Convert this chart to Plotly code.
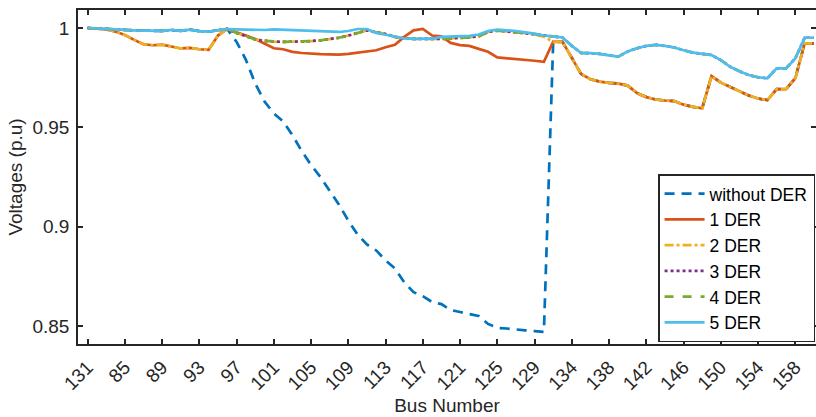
import plotly.graph_objects as go

bus_numbers = [131, 82, 83, 84, 85, 86, 87, 88, 89, 90, 91, 92, 93, 94, 95, 96, 97, 98, 99, 100,
               101, 102, 103, 104, 105, 106, 107, 108, 109, 110, 111, 112, 113, 114, 115, 116, 117, 118, 119, 120,
               121, 122, 123, 124, 125, 126, 127, 128, 129, 130, 132, 133, 134, 135, 136, 137, 138, 139, 140, 141,
               142, 143, 144, 145, 146, 147, 148, 149, 150, 151, 152, 153, 154, 155, 156, 157, 158, 159, 160]

tick_buses = [131, 85, 89, 93, 97, 101, 105, 109, 113, 117, 121, 125, 129, 134, 138, 142, 146, 150, 154, 158]

v_without = [1.0000, 0.9997, 0.9994, 0.9992, 0.9990, 0.9988, 0.9987, 0.9986, 0.9985, 0.9990,
             0.9986, 0.9992, 0.9984, 0.9982, 0.9990, 0.9995, 0.9930, 0.9840, 0.9720, 0.9630,
             0.9570, 0.9530, 0.9460, 0.9380, 0.9310, 0.9250, 0.9180, 0.9110, 0.9030, 0.8960,
             0.8910, 0.8880, 0.8830, 0.8790, 0.8720, 0.8670, 0.8650, 0.8620, 0.8610, 0.8580,
             0.8570, 0.8560, 0.8550, 0.8510, 0.8490, 0.8487, 0.8484, 0.8478, 0.8474, 0.8470,
             0.9931, 0.9930, 0.9850, 0.9768, 0.9742, 0.9730, 0.9724, 0.9720, 0.9710, 0.9672,
             0.9652, 0.9640, 0.9635, 0.9632, 0.9614, 0.9603, 0.9596, 0.9758, 0.9725, 0.9703,
             0.9680, 0.9660, 0.9645, 0.9637, 0.9692, 0.9692, 0.9747, 0.9923, 0.9923]

v_1der = [1.0000, 0.9997, 0.9993, 0.9982, 0.9965, 0.9940, 0.9918, 0.9913, 0.9916, 0.9907,
          0.9897, 0.9900, 0.9893, 0.9890, 0.9962, 0.9995, 0.9980, 0.9962, 0.9945, 0.9920,
          0.9898, 0.9893, 0.9880, 0.9874, 0.9870, 0.9868, 0.9867, 0.9866, 0.9870, 0.9877,
          0.9884, 0.9888, 0.9903, 0.9915, 0.9955, 0.9988, 0.9995, 0.9962, 0.9958, 0.9925,
          0.9914, 0.9910, 0.9895, 0.9880, 0.9852, 0.9848, 0.9846, 0.9840, 0.9835, 0.9830,
          0.9931, 0.9930, 0.9850, 0.9768, 0.9742, 0.9730, 0.9724, 0.9720, 0.9710, 0.9672,
          0.9652, 0.9640, 0.9635, 0.9632, 0.9614, 0.9603, 0.9596, 0.9758, 0.9725, 0.9703,
          0.9680, 0.9660, 0.9645, 0.9637, 0.9692, 0.9692, 0.9747, 0.9923, 0.9923]

v_2der = [1.0000, 0.9997, 0.9993, 0.9982, 0.9965, 0.9940, 0.9918, 0.9913, 0.9916, 0.9907,
          0.9897, 0.9900, 0.9893, 0.9890, 0.9962, 0.9995, 0.9975, 0.9958, 0.9942, 0.9935,
          0.9931, 0.9930, 0.9931, 0.9932, 0.9934, 0.9938, 0.9944, 0.9951, 0.9962, 0.9975,
          0.9988, 0.9978, 0.9970, 0.9955, 0.9948, 0.9945, 0.9944, 0.9943, 0.9945, 0.9948,
          0.9950, 0.9953, 0.9958, 0.9980, 0.9987, 0.9984, 0.9978, 0.9974, 0.9968, 0.9956,
          0.9931, 0.9930, 0.9850, 0.9768, 0.9742, 0.9730, 0.9724, 0.9720, 0.9710, 0.9672,
          0.9652, 0.9640, 0.9635, 0.9632, 0.9614, 0.9603, 0.9596, 0.9758, 0.9725, 0.9703,
          0.9680, 0.9660, 0.9645, 0.9637, 0.9692, 0.9692, 0.9747, 0.9923, 0.9923]

v_3der = [1.0000, 0.9997, 0.9994, 0.9992, 0.9990, 0.9988, 0.9987, 0.9986, 0.9985, 0.9990,
          0.9986, 0.9992, 0.9984, 0.9982, 0.9990, 0.9995, 0.9975, 0.9958, 0.9942, 0.9935,
          0.9931, 0.9930, 0.9931, 0.9932, 0.9934, 0.9938, 0.9944, 0.9951, 0.9962, 0.9975,
          0.9988, 0.9978, 0.9970, 0.9955, 0.9948, 0.9945, 0.9944, 0.9943, 0.9945, 0.9948,
          0.9950, 0.9953, 0.9958, 0.9980, 0.9987, 0.9984, 0.9978, 0.9974, 0.9968, 0.9962,
          0.9958, 0.9952, 0.9910, 0.9874, 0.9873, 0.9870, 0.9862, 0.9856, 0.9882, 0.9898,
          0.9910, 0.9915, 0.9910, 0.9902, 0.9888, 0.9876, 0.9870, 0.9864, 0.9838, 0.9805,
          0.9782, 0.9763, 0.9752, 0.9747, 0.9797, 0.9797, 0.9847, 0.9951, 0.9951]

v_4der = [1.0000, 0.9997, 0.9994, 0.9992, 0.9990, 0.9988, 0.9987, 0.9986, 0.9985, 0.9990,
          0.9986, 0.9992, 0.9984, 0.9982, 0.9990, 0.9995, 0.9975, 0.9958, 0.9942, 0.9935,
          0.9931, 0.9930, 0.9931, 0.9932, 0.9934, 0.9938, 0.9944, 0.9951, 0.9962, 0.9975,
          0.9988, 0.9978, 0.9970, 0.9955, 0.9948, 0.9945, 0.9944, 0.9943, 0.9945, 0.9948,
          0.9950, 0.9953, 0.9958, 0.9980, 0.9987, 0.9984, 0.9978, 0.9974, 0.9968, 0.9962,
          0.9958, 0.9952, 0.9910, 0.9874, 0.9873, 0.9870, 0.9862, 0.9856, 0.9882, 0.9898,
          0.9910, 0.9915, 0.9910, 0.9902, 0.9888, 0.9876, 0.9870, 0.9864, 0.9838, 0.9805,
          0.9782, 0.9763, 0.9752, 0.9747, 0.9797, 0.9797, 0.9847, 0.9951, 0.9951]

v_5der = [1.0000, 0.9997, 0.9994, 0.9992, 0.9990, 0.9988, 0.9987, 0.9986, 0.9985, 0.9990,
          0.9986, 0.9992, 0.9984, 0.9982, 0.9990, 0.9995, 0.9993, 0.9992, 0.9991, 0.9990,
          0.9993, 0.9991, 0.9989, 0.9987, 0.9985, 0.9982, 0.9980, 0.9980, 0.9985, 0.9995,
          0.9995, 0.9975, 0.9966, 0.9955, 0.9947, 0.9945, 0.9945, 0.9946, 0.9955, 0.9957,
          0.9957, 0.9960, 0.9967, 0.9985, 0.9992, 0.9990, 0.9985, 0.9978, 0.9972, 0.9962,
          0.9958, 0.9952, 0.9910, 0.9874, 0.9873, 0.9870, 0.9862, 0.9856, 0.9882, 0.9898,
          0.9910, 0.9915, 0.9910, 0.9902, 0.9888, 0.9876, 0.9870, 0.9864, 0.9838, 0.9805,
          0.9782, 0.9763, 0.9752, 0.9747, 0.9797, 0.9797, 0.9847, 0.9951, 0.9951]

series_names = ["without DER", "1 DER", "2 DER", "3 DER", "4 DER", "5 DER"]
series_values = [v_without, v_1der, v_2der, v_3der, v_4der, v_5der]
series_colors = ["#0072BD", "#D95319", "#EDB120", "#7E2F8E", "#77AC30", "#4DBEEE"]
series_dash = ["10px,7px", "solid", "dashdot", "dot", "dash", "solid"]

x_cat = [str(b) for b in bus_numbers]

fig = go.Figure()
for name, vals, col, dash in zip(series_names, series_values, series_colors, series_dash):
    fig.add_trace(go.Scatter(x=x_cat, y=vals, mode="lines", name=name,
                             line=dict(color=col, width=2.7, dash=dash)))

axis_color = "#262626"
font_family = "Liberation Sans, Arial, sans-serif"
fs = 19

fig.update_layout(
    width=816, height=417,
    margin=dict(l=78, r=0, t=10, b=73),
    paper_bgcolor="white", plot_bgcolor="white",
    font=dict(family=font_family, size=fs, color=axis_color),
    showlegend=True,
    legend=dict(x=0.786, y=0.005, xanchor="left", yanchor="bottom",
                bgcolor="white", bordercolor=axis_color, borderwidth=1.5,
                itemwidth=40,
                font=dict(size=17.5, color="#000000"), tracegroupgap=0),
)

fig.update_xaxes(
    type="category", range=[-1.03, 78.22], automargin=False,
    tickmode="array", tickvals=[str(b) for b in tick_buses], ticktext=[str(b) for b in tick_buses],
    tickangle=-45, ticks="inside", ticklen=5, tickwidth=1.5, tickcolor=axis_color,
    showline=True, linecolor=axis_color, linewidth=1.5, mirror="ticks",
    showgrid=False, zeroline=False, ticklabelstandoff=3,
    tickfont=dict(size=fs, color=axis_color),
    title=dict(text="Bus Number", font=dict(size=fs, color=axis_color), standoff=6),
)

fig.update_yaxes(
    range=[0.8409, 1.00906], automargin=False,
    tickmode="array", tickvals=[0.85, 0.9, 0.95, 1.0], ticktext=["0.85", "0.9", "0.95", "1"],
    ticks="inside", ticklen=5, tickwidth=1.5, tickcolor=axis_color,
    showline=True, linecolor=axis_color, linewidth=1.5, mirror="ticks",
    showgrid=False, zeroline=False, ticklabelstandoff=3,
    tickfont=dict(size=fs, color=axis_color),
    title=dict(text="Voltages (p.u)", font=dict(size=fs, color=axis_color), standoff=5),
)

fig.write_html("out.html", config={"displayModeBar": False},
               post_script="document.body.style.margin='0px';document.body.style.overflow='hidden';")
